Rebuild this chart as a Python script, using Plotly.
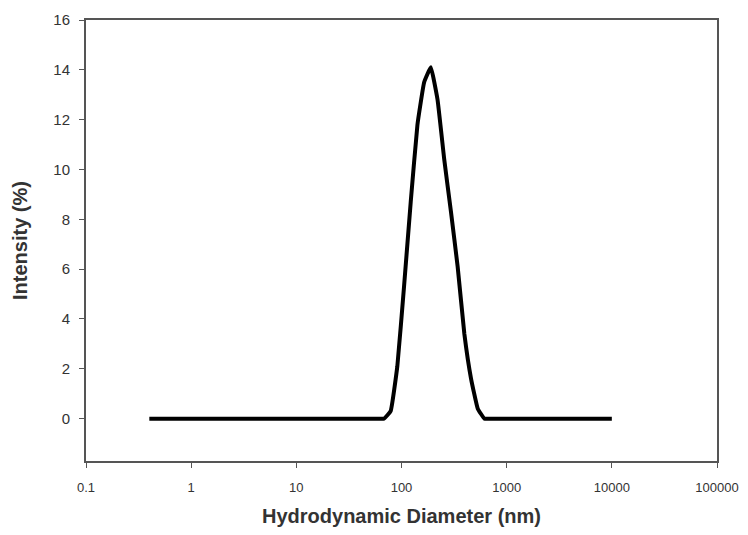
import plotly.graph_objects as go

# Size bins (nm) and intensity distribution (%)
diameter_nm = [0.4, 0.4632, 0.5365, 0.6213, 0.7195, 0.8332, 0.9649, 1.117, 1.294, 1.499,
               1.736, 2.01, 2.328, 2.696, 3.122, 3.615, 4.187, 4.849, 5.615, 6.503,
               7.531, 8.721, 10.1, 11.7, 13.54, 15.69, 18.17, 21.04, 24.36, 28.21,
               32.67, 37.84, 43.82, 50.75, 58.77, 68.06, 78.82, 91.28, 105.7, 122.4,
               141.8, 164.2, 190.1, 220.2, 255.0, 295.3, 342.0, 396.1, 458.7, 531.2,
               615.1, 712.4, 825.0, 955.4, 1106, 1281, 1484, 1718, 1990, 2305,
               2669, 3091, 3580, 4145, 4801, 5560, 6439, 7456, 8635, 10000]
intensity_pct = [0]*35 + [0.0, 0.3, 2.1, 5.3, 8.7, 11.8, 13.5, 14.1, 12.8, 10.4,
                          8.3, 6.1, 3.4, 1.6, 0.4, 0.0] + [0]*19

x_tickvals = [0.1, 1, 10, 100, 1000, 10000, 100000]
x_ticktext = ["0.1", "1", "10", "100", "1000", "10000", "100000"]
y_tickvals = [0, 2, 4, 6, 8, 10, 12, 14, 16]

fig = go.Figure()
fig.add_trace(go.Scatter(
    x=diameter_nm, y=intensity_pct, mode="lines",
    line=dict(color="black", width=4, shape="spline", smoothing=0.3),
    showlegend=False,
))

font_family = "Arial, Liberation Sans, sans-serif"
axis_common = dict(
    showline=True, linecolor="#555555", linewidth=2, mirror=True,
    ticks="outside", ticklen=5, tickwidth=1, tickcolor="#555555",
    showgrid=False, zeroline=False, automargin=False,
    ticklabeloverflow="allow",
)

fig.update_layout(
    width=736, height=519,
    margin=dict(l=78, r=27, t=12, b=66),
    paper_bgcolor="white", plot_bgcolor="white",
    font=dict(family=font_family),
    xaxis=dict(
        type="log", range=[-1, 5], tickvals=x_tickvals, ticktext=x_ticktext,
        tickfont=dict(family=font_family, size=13, color="#333333"),
        title=dict(text="<b>Hydrodynamic Diameter (nm)</b>",
                   font=dict(family=font_family, size=20, color="#333333"), standoff=22),
        ticklabelstandoff=8,
        **axis_common,
    ),
    yaxis=dict(
        range=[-1.7, 16], tickvals=y_tickvals,
        tickfont=dict(family=font_family, size=15, color="#333333"),
        title=dict(text="<b>Intensity (%)</b>",
                   font=dict(family=font_family, size=20, color="#333333"), standoff=20),
        ticklabelstandoff=6,
        **axis_common,
    ),
)

fig.write_html("out.html")
